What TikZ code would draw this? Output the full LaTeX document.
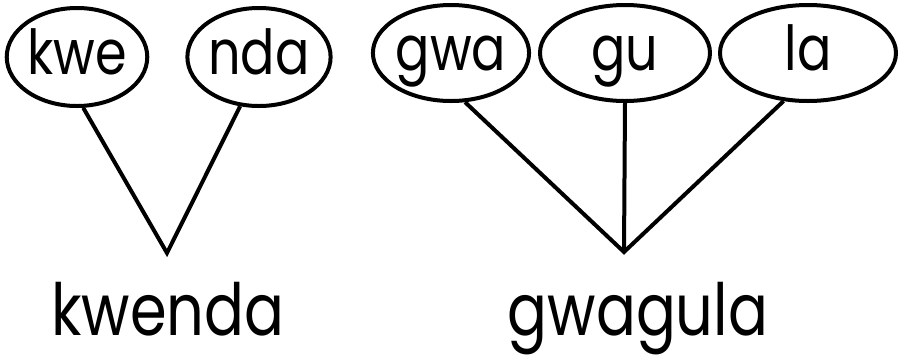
\documentclass[tikz,border=0pt]{standalone}
\usepackage{fontspec}
\setmainfont[FakeStretch=0.82]{Poppins}
\usetikzlibrary{shapes.geometric}
\begin{document}
\begin{tikzpicture}[x=1pt,y=-1pt,
  syl/.style={ellipse, draw, line width=4pt, inner sep=0pt,
    font=\fontsize{62}{64}\selectfont, text height=35pt, text depth=0pt},
  word/.style={inner sep=0pt, font=\fontsize{72}{80}\selectfont, anchor=base},
  link/.style={line width=4pt, line join=miter}]
\useasboundingbox (0,0) rectangle (900,357);
\node[syl, minimum width=140pt, minimum height=98pt] (kwe) at (77,57) {kwe};
\node[syl, minimum width=138pt, minimum height=98pt] (nda) at (259,57) {nda};
\node[syl, minimum width=152pt, minimum height=96pt] (gwa) at (451,53) {gwa};
\node[syl, minimum width=170pt, minimum height=96pt] (gu) at (625,53) {gu};
\node[syl, minimum width=176pt, minimum height=96pt] (la) at (808,53) {la};
\coordinate (vk) at (167,253);
\coordinate (vg) at (624,252);
\node[word] (kwenda) at (168,335) {kwenda};
\node[word] (gwagula) at (638,335) {gwagula};
\draw[link] (kwe.-83) -- (vk) -- (nda.-111);
\draw[link] (gwa.-74) -- (vg) -- (la.-117);
\draw[link] (gu.south) -- (vg);
\end{tikzpicture}
\end{document}
